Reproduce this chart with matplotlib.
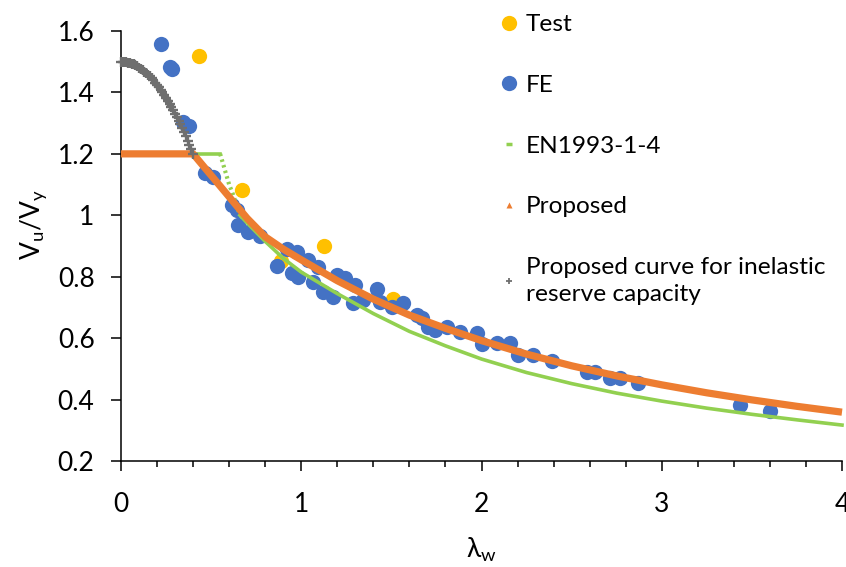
import matplotlib
matplotlib.use('Agg')
import matplotlib.pyplot as plt
from matplotlib.lines import Line2D
from matplotlib.ticker import MultipleLocator

plt.rcParams['font.family'] = ['Lato', 'DejaVu Sans']
plt.rcParams['mathtext.default'] = 'regular'

# test results (some sit behind the FE points)
test_x = [0.434, 0.670, 1.128, 0.890, 1.511]
test_y = [1.519, 1.083, 0.900, 0.852, 0.728]

# FE results
fe_x = [0.222, 0.272, 0.285, 0.346, 0.379, 0.466, 0.512, 0.614, 0.642, 0.651,
        0.706, 0.771, 0.864, 0.919, 0.975, 0.947, 0.984, 1.039, 1.095, 1.067,
        1.122, 1.178, 1.197, 1.243, 1.298, 1.289, 1.344, 1.418, 1.437, 1.502,
        1.566, 1.640, 1.668, 1.705, 1.742, 1.807, 1.881, 1.973, 2.001, 2.084,
        2.158, 2.204, 2.288, 2.389, 2.583, 2.630, 2.713, 2.768, 2.870, 3.434,
        3.600]
fe_y = [1.558, 1.484, 1.477, 1.305, 1.291, 1.137, 1.126, 1.034, 1.018, 0.969,
        0.947, 0.931, 0.835, 0.890, 0.879, 0.811, 0.800, 0.855, 0.833, 0.784,
        0.751, 0.735, 0.806, 0.795, 0.773, 0.714, 0.724, 0.760, 0.719, 0.703,
        0.716, 0.676, 0.665, 0.637, 0.627, 0.637, 0.621, 0.616, 0.580, 0.583,
        0.583, 0.545, 0.545, 0.526, 0.491, 0.491, 0.469, 0.469, 0.455, 0.382,
        0.364]

# EN1993-1-4 curve
en_x = [0.0, 0.55, 0.56, 0.58, 0.60, 0.62, 0.64, 0.66, 0.70, 0.80, 0.90, 1.0,
        1.2, 1.4, 1.6, 1.8, 2.0, 2.25, 2.5, 2.75, 3.0, 3.25, 3.5, 3.75, 4.0]
en_y = [1.2, 1.2, 1.18, 1.14, 1.10, 1.07, 1.035, 1.0, 0.975, 0.915, 0.86, 0.815,
        0.745, 0.680, 0.622, 0.575, 0.532, 0.488, 0.452, 0.421, 0.395, 0.372,
        0.352, 0.334, 0.317]

# proposed curve
prop_x = [0.0, 0.4, 0.5, 0.6, 0.7, 0.8, 0.9, 1.0, 1.2, 1.4, 1.6, 1.8, 2.0,
          2.25, 2.5, 2.75, 3.0, 3.25, 3.5, 3.75, 4.0]
prop_y = [1.2, 1.2, 1.13, 1.06, 0.99, 0.93, 0.89, 0.855, 0.787, 0.727, 0.675,
          0.632, 0.592, 0.548, 0.510, 0.477, 0.448, 0.422, 0.399, 0.378, 0.359]

# proposed curve for inelastic reserve capacity
inel_x = [0.0, 0.01, 0.02, 0.03, 0.04, 0.05, 0.06, 0.07, 0.08, 0.09, 0.10,
          0.11, 0.12, 0.13, 0.14, 0.15, 0.16, 0.17, 0.18, 0.19, 0.20,
          0.21, 0.22, 0.23, 0.24, 0.25, 0.26, 0.27, 0.28, 0.29, 0.30,
          0.31, 0.32, 0.33, 0.34, 0.35, 0.36, 0.37, 0.38, 0.39, 0.40]
inel_y = [1.500, 1.500, 1.499, 1.498, 1.497, 1.495, 1.493, 1.491, 1.488, 1.485,
          1.481, 1.477, 1.473, 1.468, 1.463, 1.458, 1.452, 1.446, 1.439, 1.432,
          1.425, 1.417, 1.409, 1.401, 1.392, 1.383, 1.373, 1.363, 1.353, 1.342,
          1.331, 1.320, 1.308, 1.296, 1.283, 1.270, 1.257, 1.243, 1.229, 1.215,
          1.200]

c_test = '#FFC000'
c_fe = '#4472C4'
c_en = '#92D050'
c_prop = '#ED7D31'
c_inel = '#6F6F6F'

fig = plt.figure(figsize=(8.46, 5.67), dpi=100)
ax = fig.add_axes([121/846, 1-461/567, 721/846, 430/567])

ax.plot(test_x, test_y, 'o', color=c_test, ms=11, mec='none', zorder=2)
ax.plot(fe_x, fe_y, 'o', color=c_fe, ms=11, mec='none', zorder=3)
ax.plot(en_x[:2], en_y[:2], '-', color=c_en, lw=2.6, zorder=4)
ax.plot(en_x[1:8], en_y[1:8], color=c_en, lw=3, ls=(0, (0.6, 0.8)), zorder=4)
ax.plot(en_x[7:], en_y[7:], '-', color=c_en, lw=2.6, zorder=4, clip_on=False)
ax.plot(prop_x, prop_y, '-', color=c_prop, lw=5.2, zorder=5, clip_on=False,
        solid_capstyle='butt')
ax.plot(inel_x, inel_y, '+', color=c_inel, ms=6.5, mew=1.7, zorder=6, clip_on=False)

ax.set_xlim(0, 4)
ax.set_ylim(0.2, 1.6)
ax.xaxis.set_major_locator(MultipleLocator(1))
ax.xaxis.set_minor_locator(MultipleLocator(0.2))
ax.set_yticks([0.2, 0.4, 0.6, 0.8, 1.0, 1.2, 1.4, 1.6])
ax.set_yticklabels(['0.2', '0.4', '0.6', '0.8', '1', '1.2', '1.4', '1.6'])

for s in ['top', 'right']:
    ax.spines[s].set_visible(False)
for s in ['left', 'bottom']:
    ax.spines[s].set_linewidth(1.1)
    ax.spines[s].set_color('black')

ax.tick_params(axis='both', which='major', length=7, width=1.1, labelsize=19,
               pad=12, colors='black')
ax.tick_params(axis='x', which='major', pad=15)
ax.tick_params(axis='x', which='minor', length=4.5, width=1.1, colors='black')

ax.set_ylabel('$V_u/V_y$', fontsize=19)
ax.set_xlabel('λ$_w$', fontsize=19)
ax.yaxis.set_label_coords(-0.1, 0.55)
ax.xaxis.set_label_coords(0.5, -0.175)

handles = [
    Line2D([], [], ls='none', marker='o', ms=11, color=c_test, mec='none'),
    Line2D([], [], ls='none', marker='o', ms=11, color=c_fe, mec='none'),
    Line2D([], [], ls='none', marker='_', ms=5, mew=2.5, color=c_en),
    Line2D([], [], ls='none', marker='^', ms=5, color=c_prop, mec='none'),
    Line2D([], [], ls='none', marker='+', ms=5, mew=1.3, color=c_inel),
]
labels = ['Test', 'FE', 'EN1993-1-4', 'Proposed',
          'Proposed curve for inelastic\nreserve capacity']
leg = fig.legend(handles, labels, loc='upper left',
                 bbox_to_anchor=(500/846, 1-14/567),
                 frameon=False, fontsize=17.6, borderpad=0, borderaxespad=0,
                 handlelength=0.75, handletextpad=0.3, labelspacing=1.62)
leg.get_texts()[4].set_linespacing(1.35)

fig.savefig('out.png', dpi=100)
